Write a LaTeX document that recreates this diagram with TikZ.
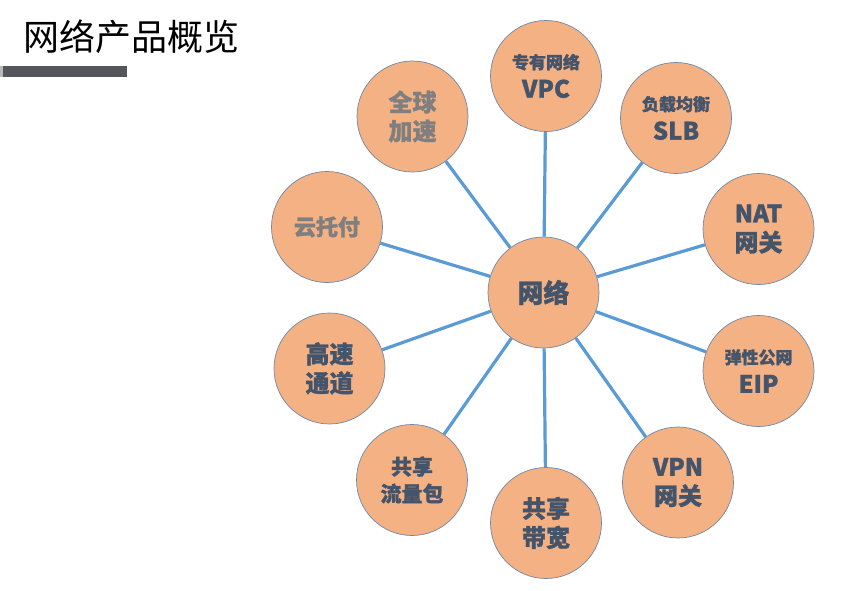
\documentclass[tikz,border=0pt]{standalone}
\usepackage{fontspec}
\setmainfont{Noto Sans CJK SC}[BoldFeatures={FakeBold=1.2}]
\usetikzlibrary{positioning}
\definecolor{circfill}{HTML}{F4B183}
\definecolor{circline}{HTML}{7088A6}
\definecolor{txtdark}{HTML}{44546A}
\definecolor{txtgray}{HTML}{7F7F7F}
\definecolor{linkblue}{HTML}{5B9BD5}
\definecolor{bargray}{HTML}{55565B}
\newcommand\smalltxt[1]{{\fontsize{17}{21}\selectfont #1}}
\tikzset{
  prod/.style={circle, draw=circline, line width=0.7pt, fill=circfill, minimum size=111pt,
               inner sep=0pt, align=center, text=txtdark, font=\bfseries\fontsize{24}{29}\selectfont},
  grayprod/.style={prod, text=txtgray},
  link/.style={draw=linkblue, line width=3.2pt},
  title/.style={font=\fontsize{36}{40}\selectfont, text=black, inner sep=0pt},
}
\begin{document}
\begin{tikzpicture}[x=1pt,y=-1pt]
    \useasboundingbox (0,0) rectangle (854,591);
    % title and bar
    \node[title] (ttl) at (131.5,37) {网络产品概览};
    \fill[bargray] (0,66) rectangle (127,77);
    \fill[gray!55] (0,66) rectangle (3,77);
    % hub and products
    \node[prod, font=\bfseries\fontsize{26}{30}\selectfont] (net) at (543.5,292.5) {网络};
    \node[prod] (vpc) at (546,76) {\smalltxt{专有网络}\\VPC};
    \node[prod] (slb) at (676,118) {\smalltxt{负载均衡}\\SLB};
    \node[prod] (nat) at (758.5,229) {NAT\\网关};
    \node[prod] (eip) at (758.5,371) {\smalltxt{弹性公网}\\EIP};
    \node[prod] (vpn) at (678,482.5) {VPN\\网关};
    \node[prod] (bw) at (546,523) {共享\\带宽};
    \node[prod, font=\bfseries\fontsize{21}{27}\selectfont] (flow) at (412,480) {共享\\流量包};
    \node[prod] (express) at (329.5,368.5) {高速\\通道};
    \node[grayprod, font=\bfseries\fontsize{22}{27}\selectfont] (cloud) at (327,227) {云托付};
    \node[grayprod] (ga) at (412.5,116.5) {全球\\加速};
    \draw[link] (net)--(vpc); \draw[link] (net)--(slb); \draw[link] (net)--(nat); \draw[link] (net)--(eip);
    \draw[link] (net)--(vpn); \draw[link] (net)--(bw); \draw[link] (net)--(flow); \draw[link] (net)--(express);
    \draw[link] (net)--(cloud); \draw[link] (net)--(ga);
  \end{tikzpicture}
\end{document}
